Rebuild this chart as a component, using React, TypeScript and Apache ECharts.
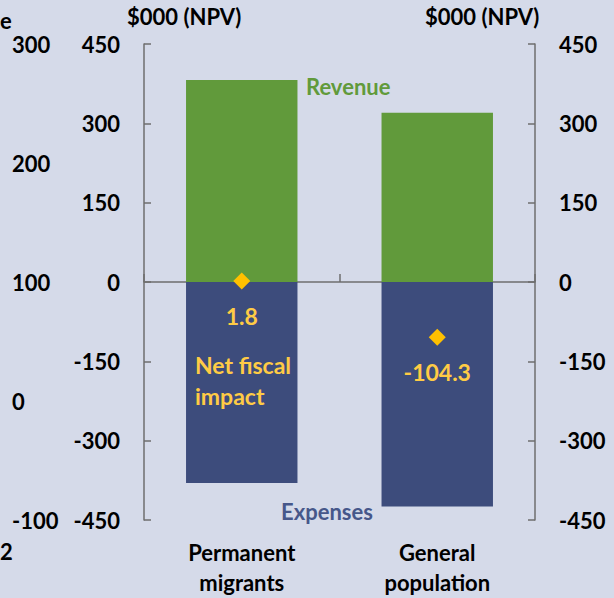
import React, { useEffect, useRef } from "react";
import * as echarts from "echarts";

// Fiscal impact per person, $000 NPV
const categories = ["Permanent\nmigrants", "General\npopulation"];
const revenue = [381.8, 320.0];
const expenses = [-380.0, -424.3];
const netImpact = [1.8, -104.3];
const axisTicks = { min: -450, max: 450, interval: 150 };
// Axis labels of the neighbouring panel, partly visible at the left edge
const sideAxis = { min: -100, max: 300, interval: 100 };

const FONT = "Lato";
const FS = 22;
const BG = "#D5DAE9";
const GREEN = "#619A3B";
const NAVY = "#3D4C7C";
const GOLD = "#FFC000";
const GOLD_TEXT = "#FFCB45";
const AXIS = "#6E6E6E";

export default function App() {
  const ref = useRef<HTMLDivElement>(null);

  useEffect(() => {
    if (!ref.current) return;
    const chart = echarts.init(ref.current, null, { renderer: "svg" });

    const valueAxis = (position: "left" | "right") => ({
      type: "value" as const,
      position,
      min: axisTicks.min,
      max: axisTicks.max,
      interval: axisTicks.interval,
      axisLine: { show: true, lineStyle: { color: AXIS, width: 1.5 } },
      axisTick: { show: true, inside: true, length: 7, lineStyle: { color: AXIS, width: 1.5 } },
      splitLine: { show: false },
      axisLabel: {
        color: "#000",
        fontFamily: FONT,
        fontWeight: "bold" as const,
        fontSize: FS,
        margin: 24,
      },
    });

    const txt = (left: number, top: number, text: string, fill: string, extra: any = {}) => ({
      type: "text",
      left,
      top,
      z: 100,
      style: { text, fill, font: `bold ${FS}px ${FONT}`, ...extra },
    });

    chart.setOption({
      animation: false,
      backgroundColor: BG,
      textStyle: { fontFamily: FONT },
      grid: { left: 144, right: 79, top: 44, bottom: 78 },
      xAxis: [
        {
          type: "category",
          data: categories,
          axisLine: { onZero: true, lineStyle: { color: AXIS, width: 1.5 } },
          axisTick: { show: true, inside: true, length: 8, lineStyle: { color: AXIS, width: 1.5 } },
          axisLabel: { show: false },
        },
        {
          type: "category",
          data: categories,
          position: "bottom",
          axisLine: { show: false, onZero: false },
          axisTick: { show: false },
          axisLabel: {
            color: "#000",
            fontFamily: FONT,
            fontWeight: "bold",
            fontSize: FS,
            lineHeight: 30,
            margin: 17,
          },
        },
      ],
      yAxis: [
        valueAxis("left"),
        valueAxis("right"),
        {
          type: "value",
          position: "left",
          offset: 132,
          min: sideAxis.min,
          max: sideAxis.max,
          interval: sideAxis.interval,
          axisLine: { show: false },
          axisTick: { show: false },
          splitLine: { show: false },
          axisLabel: {
            color: "#000",
            fontFamily: FONT,
            fontWeight: "bold",
            fontSize: FS,
            align: "left",
            margin: 0,
          },
        },
      ],
      series: [
        {
          name: "Revenue",
          type: "bar",
          data: revenue,
          barWidth: "57%",
          barGap: "-100%",
          itemStyle: { color: GREEN },
        },
        {
          name: "Expenses",
          type: "bar",
          data: expenses,
          barWidth: "57%",
          itemStyle: { color: NAVY },
        },
        {
          name: "Net fiscal impact",
          type: "scatter",
          data: netImpact,
          symbol: "diamond",
          symbolSize: 17,
          itemStyle: { color: GOLD, opacity: 1 },
          emphasis: { disabled: true },
          label: {
            show: true,
            position: "bottom",
            distance: 15,
            color: GOLD_TEXT,
            opacity: 1,
            textBorderWidth: 0,
            fontFamily: FONT,
            fontWeight: 700,
            fontSize: FS + 1,
            formatter: (p: any) => String(p.value),
          },
          z: 5,
        },
      ],
      graphic: [
        txt(127, 5, "$000 (NPV)", "#000"),
        txt(425, 5, "$000 (NPV)", "#000"),
        txt(0, 9, "e", "#000"),
        txt(0, 540, "2", "#000"),
        txt(306, 75, "Revenue", GREEN),
        txt(281, 500, "Expenses", "#46578A"),
        txt(195, 349, "Net fiscal\nimpact", GOLD_TEXT, {
          font: `bold ${FS + 1}px ${FONT}`,
          lineHeight: 31,
        }),
      ],
    });

    return () => chart.dispose();
  }, []);

  return (
    <div
      ref={ref}
      style={{ position: "fixed", left: 0, top: 0, width: 614, height: 598 }}
    />
  );
}
